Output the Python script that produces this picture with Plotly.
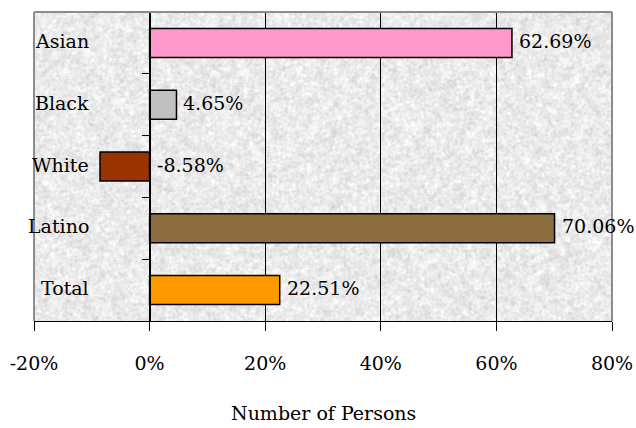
import base64
import struct
import zlib

import numpy as np
import plotly.graph_objects as go

# Percent change by group
groups = ["Asian", "Black", "White", "Latino", "Total"]
pct_change = [62.69, 4.65, -8.58, 70.06, 22.51]
bar_colors = ["#FF99CC", "#C0C0C0", "#993300", "#8C6D3F", "#FF9900"]
x_ticks = [-20, 0, 20, 40, 60, 80]
x_tick_labels = ["-20%", "0%", "20%", "40%", "60%", "80%"]
axis_title = "Number of Persons"

FONT = "DejaVu Serif"
FONT_SIZE = 19


def granite_png(w, h, seed=7):
    """Soft speckled gray fill, encoded as a grayscale PNG data URI."""
    rng = np.random.default_rng(seed)

    def blur(a, k):
        for axis in (0, 1):
            acc = np.zeros_like(a)
            for s in range(-k, k + 1):
                acc += np.roll(a, s, axis=axis)
            a = acc / (2 * k + 1)
        return a

    fine = blur(rng.normal(size=(h, w)), 1)
    coarse = blur(rng.normal(size=(h, w)), 3)
    tex = 0.6 * fine / fine.std() + 0.4 * coarse / coarse.std()
    img = np.clip(235 + 10 * tex, 196, 253).astype(np.uint8)

    raw = b"".join(b"\x00" + img[r].tobytes() for r in range(h))

    def chunk(tag, data):
        c = struct.pack(">I", len(data)) + tag + data
        return c + struct.pack(">I", zlib.crc32(tag + data) & 0xFFFFFFFF)

    png = b"\x89PNG\r\n\x1a\n"
    png += chunk(b"IHDR", struct.pack(">IIBBBBB", w, h, 8, 0, 0, 0, 0))
    png += chunk(b"IDAT", zlib.compress(raw, 9))
    png += chunk(b"IEND", b"")
    return "data:image/png;base64," + base64.b64encode(png).decode()


ML, MR, MT, MB = 34, 24, 12, 107
W, H = 636, 428
plot_w, plot_h = W - ML - MR, H - MT - MB
zero_frac = (0 - x_ticks[0]) / (x_ticks[-1] - x_ticks[0])

fig = go.Figure(
    go.Bar(
        y=groups,
        x=pct_change,
        orientation="h",
        marker=dict(color=bar_colors, line=dict(color="black", width=1.5)),
        hoverinfo="skip",
    )
)

# value labels just past the outer end of each bar (or past zero for negatives)
for g, v in zip(groups, pct_change):
    fig.add_annotation(
        x=max(v, 0), y=g, xref="x", yref="y",
        text=f"{v:.2f}%", showarrow=False,
        xanchor="left", yanchor="middle", xshift=5, yshift=2,
        font=dict(family=FONT, size=FONT_SIZE, color="black"),
    )

# category names sit inside the plot area, left of the zero line
for g in groups:
    fig.add_annotation(
        x=(91 - ML) / plot_w, y=g, xref="paper", yref="y",
        text=g, showarrow=False, xanchor="right", yanchor="middle",
        yshift=2,
        font=dict(family=FONT, size=FONT_SIZE, color="black"),
    )

fig.add_annotation(
    x=0.5, y=-(413 - (H - MB)) / plot_h, xref="paper", yref="paper",
    text=axis_title, showarrow=False, xanchor="center", yanchor="middle",
    font=dict(family=FONT, size=FONT_SIZE, color="black"),
)

# gray frame on left, top and right of the plot area
for x0, y0, x1, y1 in [(0, 0, 0, 1), (0, 1, 1, 1), (1, 0, 1, 1)]:
    fig.add_shape(
        type="line", xref="paper", yref="paper",
        x0=x0, y0=y0, x1=x1, y1=y1,
        line=dict(color="#8C8C8C", width=2), layer="above",
    )

fig.add_layout_image(
    source=granite_png(plot_w, plot_h),
    xref="paper", yref="paper", x=0, y=1, sizex=1, sizey=1,
    sizing="stretch", xanchor="left", yanchor="top", layer="below",
)

fig.update_layout(
    width=W, height=H,
    margin=dict(l=ML, r=MR, t=MT, b=MB, pad=0, autoexpand=False),
    paper_bgcolor="white",
    plot_bgcolor="rgba(0,0,0,0)",
    showlegend=False,
    bargap=0.53,
    font=dict(family=FONT, size=FONT_SIZE, color="black"),
    xaxis=dict(
        range=[x_ticks[0], x_ticks[-1]],
        tickmode="array", tickvals=x_ticks, ticktext=x_tick_labels,
        showgrid=True, gridcolor="black", gridwidth=1,
        zeroline=False,
        showline=True, linecolor="black", linewidth=1,
        ticks="outside", ticklen=9, tickcolor="black", tickwidth=1,
        ticklabelstandoff=16,
        automargin=False,
        fixedrange=True,
    ),
    yaxis=dict(
        type="category", categoryorder="array", categoryarray=groups,
        autorange="reversed",
        anchor="free", position=zero_frac,
        showline=True, linecolor="black", linewidth=1,
        ticks="outside", tickson="boundaries", ticklen=8,
        tickcolor="black", tickwidth=1,
        showticklabels=False, showgrid=False, zeroline=False,
        automargin=False,
        fixedrange=True,
    ),
)

fig.write_html("out.html", config={"displayModeBar": False})
